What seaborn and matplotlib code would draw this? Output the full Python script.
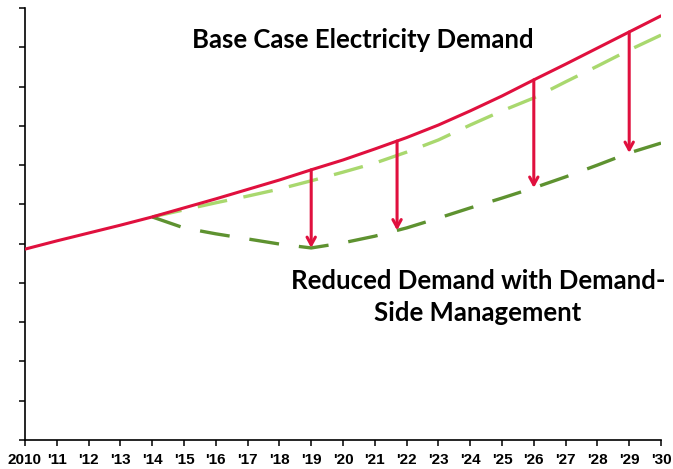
import numpy as np
import pandas as pd
import matplotlib
matplotlib.use("Agg")
import matplotlib.pyplot as plt
import seaborn as sns

# Valores (unidades arbitrarias, eje 0-11)
years = list(range(2010, 2031))
base_case = [4.86, 5.07, 5.27, 5.47, 5.68, 5.91, 6.14, 6.38, 6.62, 6.88,
             7.13, 7.41, 7.70, 8.02, 8.38, 8.76, 9.17, 9.57, 9.98, 10.39, 10.80]
dsm_years = list(range(2014, 2031))
light_green = [5.68, 5.86, 6.04, 6.21, 6.39, 6.60, 6.82, 7.05, 7.33, 7.64,
               8.02, 8.38, 8.71, 9.12, 9.52, 9.93, 10.31]
reduced = [5.68, 5.40, 5.25, 5.12, 4.99, 4.89, 5.02, 5.19, 5.40, 5.65,
           5.91, 6.16, 6.42, 6.70, 7.00, 7.31, 7.56]
arrow_years = [2019, 2021.7, 2026, 2029]
tick_labels = ["2010"] + ["'%02d" % (y % 100) for y in years[1:]]

base_df = pd.DataFrame({"Year": years, "Demand": base_case})
dsm_df = pd.DataFrame({"Year": dsm_years, "Light": light_green, "Reduced": reduced})

RED = "#E0103E"
LIGHT = "#A9D86E"
DARK = "#5E9230"

sns.set_style("ticks")
plt.rcParams["font.family"] = ["Liberation Sans", "DejaVu Sans"]

fig = plt.figure(figsize=(6.73, 4.69), dpi=100)
ax = fig.add_axes([25 / 673, 29 / 469, 636 / 673, 432 / 469])

sns.lineplot(data=dsm_df, x="Year", y="Light", ax=ax, color=LIGHT,
             linewidth=2.4, zorder=2)
ax.lines[-1].set_dashes([9, 5])
sns.lineplot(data=dsm_df, x="Year", y="Reduced", ax=ax, color=DARK,
             linewidth=2.4, zorder=2)
ax.lines[-1].set_dashes([9, 6])
sns.lineplot(data=base_df, x="Year", y="Demand", ax=ax, color=RED,
             linewidth=2.2, zorder=3)

# Flechas de reducción
for ay in arrow_years:
    y_top = np.interp(ay, years, base_case)
    y_tip = np.interp(ay, dsm_years, reduced)
    ax.annotate("", xy=(ay, y_tip), xytext=(ay, y_top),
                arrowprops=dict(arrowstyle="->,head_length=0.55,head_width=0.3",
                                color=RED, lw=2.2, shrinkA=0, shrinkB=0),
                zorder=4)

ax.set_xlim(2010, 2030)
ax.set_ylim(0, 11)
ax.set_xticks(years)
ax.set_xticklabels(tick_labels, fontsize=11, fontweight="bold", color="#111111")
ax.set_yticks(range(0, 12))
ax.set_yticklabels([])
ax.tick_params(direction="out", length=4.5, width=1.1, colors="black", pad=5)
ax.set_xlabel("")
ax.set_ylabel("")
for s in ["top", "right"]:
    ax.spines[s].set_visible(False)
for s in ["left", "bottom"]:
    ax.spines[s].set_linewidth(1.2)
    ax.spines[s].set_color("black")

fig.text(363 / 673, 1 - 40 / 469, "Base Case Electricity Demand",
         ha="center", va="center", fontsize=18.5, fontweight="bold",
         family=["Lato", "DejaVu Sans"], color="black")
fig.text(478 / 673, 1 - 297 / 469, "Reduced Demand with Demand-\nSide Management",
         ha="center", va="center", fontsize=18.5, fontweight="bold",
         family=["Lato", "DejaVu Sans"], color="black", linespacing=1.4)

fig.savefig("out.png", dpi=100)
